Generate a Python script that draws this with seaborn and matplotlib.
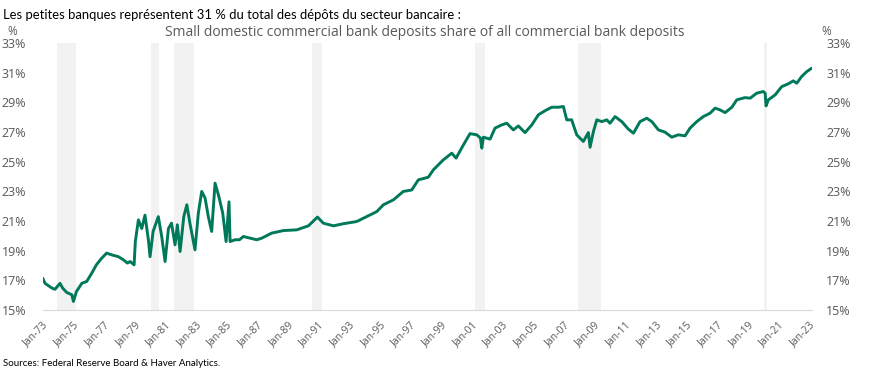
import numpy as np
import pandas as pd
import matplotlib
matplotlib.use("Agg")
import matplotlib.pyplot as plt
import seaborn as sns

# values (decimal year, % share)
years = [1973.0, 1973.15, 1973.6, 1973.8, 1974.13, 1974.3, 1974.57, 1974.9, 1975.0, 1975.2,
         1975.55, 1975.87, 1976.2, 1976.5, 1976.85, 1977.17, 1977.5, 1977.93, 1978.26, 1978.52,
         1978.7, 1978.96, 1979.04, 1979.24, 1979.46, 1979.67, 1979.89, 1980.0, 1980.2, 1980.54,
         1980.76, 1980.98, 1981.2, 1981.4, 1981.63, 1981.78, 1981.96, 1982.2, 1982.4, 1982.6,
         1982.93, 1983.15, 1983.37, 1983.59, 1983.8, 1984.02, 1984.24, 1984.46, 1984.74, 1984.96,
         1985.15, 1985.22, 1985.55, 1985.83, 1986.09, 1986.96, 1987.29, 1987.94, 1988.7, 1989.57,
         1990.33, 1990.92, 1991.3, 1991.96, 1992.6, 1993.48, 1994.35, 1994.79, 1995.22, 1995.87,
         1996.52, 1997.07, 1997.5, 1998.15, 1998.48, 1999.13, 1999.68, 1999.96, 2000.44, 2000.87,
         2001.31, 2001.55, 2001.64, 2001.74, 2002.18, 2002.5, 2002.94, 2003.27, 2003.7, 2004.02,
         2004.46, 2004.9, 2005.33, 2005.77, 2006.2, 2006.63, 2006.96, 2007.18, 2007.5, 2007.83,
         2008.26, 2008.59, 2008.7, 2008.92, 2009.14, 2009.47, 2009.79, 2010.0, 2010.33, 2010.77,
         2011.2, 2011.53, 2011.96, 2012.4, 2012.73, 2013.16, 2013.59, 2014.03, 2014.46, 2014.9,
         2015.22, 2015.66, 2016.09, 2016.53, 2016.86, 2017.18, 2017.51, 2017.95, 2018.27, 2018.81,
         2019.14, 2019.57, 2020.0, 2020.12, 2020.18, 2020.33, 2020.77, 2021.2, 2021.63, 2021.96,
         2022.18, 2022.5, 2022.83, 2023.15]
share = [17.15, 16.8, 16.48, 16.4, 16.8, 16.48, 16.18, 16.03, 15.58, 16.25,
         16.8, 16.93, 17.49, 18.05, 18.5, 18.84, 18.72, 18.6, 18.39, 18.17,
         18.27, 18.05, 19.62, 21.08, 20.5, 21.4, 19.74, 18.6, 20.3, 21.3,
         19.96, 18.27, 20.5, 20.86, 19.4, 20.75, 18.95, 21.3, 22.1, 20.86,
         19.06, 21.54, 23.0, 22.55, 21.3, 20.3, 23.56, 22.77, 21.54, 19.62,
         22.3, 19.62, 19.74, 19.74, 19.96, 19.74, 19.85, 20.19, 20.36, 20.41,
         20.68, 21.27, 20.86, 20.68, 20.82, 20.97, 21.42, 21.64, 22.1, 22.43,
         23.0, 23.1, 23.78, 23.96, 24.46, 25.13, 25.58, 25.25, 26.14, 26.9,
         26.82, 26.6, 25.92, 26.66, 26.53, 27.27, 27.49, 27.6, 27.15, 27.42,
         26.97, 27.49, 28.17, 28.45, 28.68, 28.68, 28.73, 27.83, 27.83, 26.82,
         26.37, 26.97, 25.98, 27.04, 27.83, 27.71, 27.83, 27.6, 28.05, 27.71,
         27.2, 26.93, 27.71, 27.94, 27.71, 27.15, 27.0, 26.66, 26.82, 26.75,
         27.27, 27.71, 28.05, 28.28, 28.62, 28.5, 28.32, 28.68, 29.18, 29.33,
         29.29, 29.63, 29.74, 29.63, 28.77, 29.18, 29.51, 30.07, 30.26, 30.46,
         30.3, 30.75, 31.08, 31.31]

rec_start = [1973.9, 1980.05, 1981.57, 1990.55, 2001.2, 2007.94, 2020.07]
rec_end = [1975.17, 1980.57, 1982.87, 1991.2, 2001.85, 2009.42, 2020.23]

tick_years = list(range(1973, 2024, 2))
tick_labels = ["Jan-%02d" % (y % 100) for y in tick_years]
y_ticks = list(range(15, 34, 2))

df = pd.DataFrame({"year": years, "share": share})

sns.set_style("white")
plt.rcParams["font.family"] = ["Open Sans", "DejaVu Sans"]
grey = "#595959"

fig = plt.figure(figsize=(8.72, 3.79), dpi=100)
ax = fig.add_axes([0.049, 0.182, 0.8826, 0.704])

for s, e in zip(rec_start, rec_end):
    ax.axvspan(s, e, color="#f2f2f2", lw=0, zorder=0)

sns.lineplot(data=df, x="year", y="share", ax=ax, color="#00785a", lw=2.1, zorder=3)

ax.set_xlim(1973, 2023.2)
ax.set_ylim(15, 33)
ax.set_xticks(tick_years)
ax.set_xticklabels(tick_labels, rotation=45, ha="right", rotation_mode="anchor",
                   fontsize=7.5, color=grey)
ax.set_yticks(y_ticks)
ax.set_yticklabels(["%d%%" % v for v in y_ticks], fontsize=9, color=grey)
ax.set_xlabel("")
ax.set_ylabel("")
for side in ["left", "right", "top"]:
    ax.spines[side].set_visible(False)
ax.spines["bottom"].set_color("#d9d9d9")
ax.tick_params(axis="x", length=4, color="#d9d9d9", pad=3)
ax.tick_params(axis="y", length=0, pad=12)

ax2 = ax.twinx()
ax2.set_ylim(15, 33)
ax2.set_yticks(y_ticks)
ax2.set_yticklabels(["%d%%" % v for v in y_ticks], fontsize=9, color=grey)
ax2.tick_params(axis="y", length=0, pad=10)
for side in ["left", "right", "top", "bottom"]:
    ax2.spines[side].set_visible(False)
ax2.grid(False)

fig.text(0.003, 0.977, "Les petites banques représentent 31 % du total des dépôts du secteur bancaire :",
         fontsize=9.4, color="black", va="top", ha="left", family=["Lato", "DejaVu Sans"])
fig.text(0.487, 0.935, "Small domestic commercial bank deposits share of all commercial bank deposits",
         fontsize=10, color=grey, va="top", ha="center")
fig.text(0.009, 0.935, "%", fontsize=8.5, color=grey, va="top", ha="left")
fig.text(0.942, 0.935, "%", fontsize=8.5, color=grey, va="top", ha="left")
fig.text(0.003, 0.03, "Sources: Federal Reserve Board & Haver Analytics.",
         fontsize=7, color="black", va="bottom", ha="left", family=["Lato", "DejaVu Sans"])

fig.savefig("out.png", dpi=100)
